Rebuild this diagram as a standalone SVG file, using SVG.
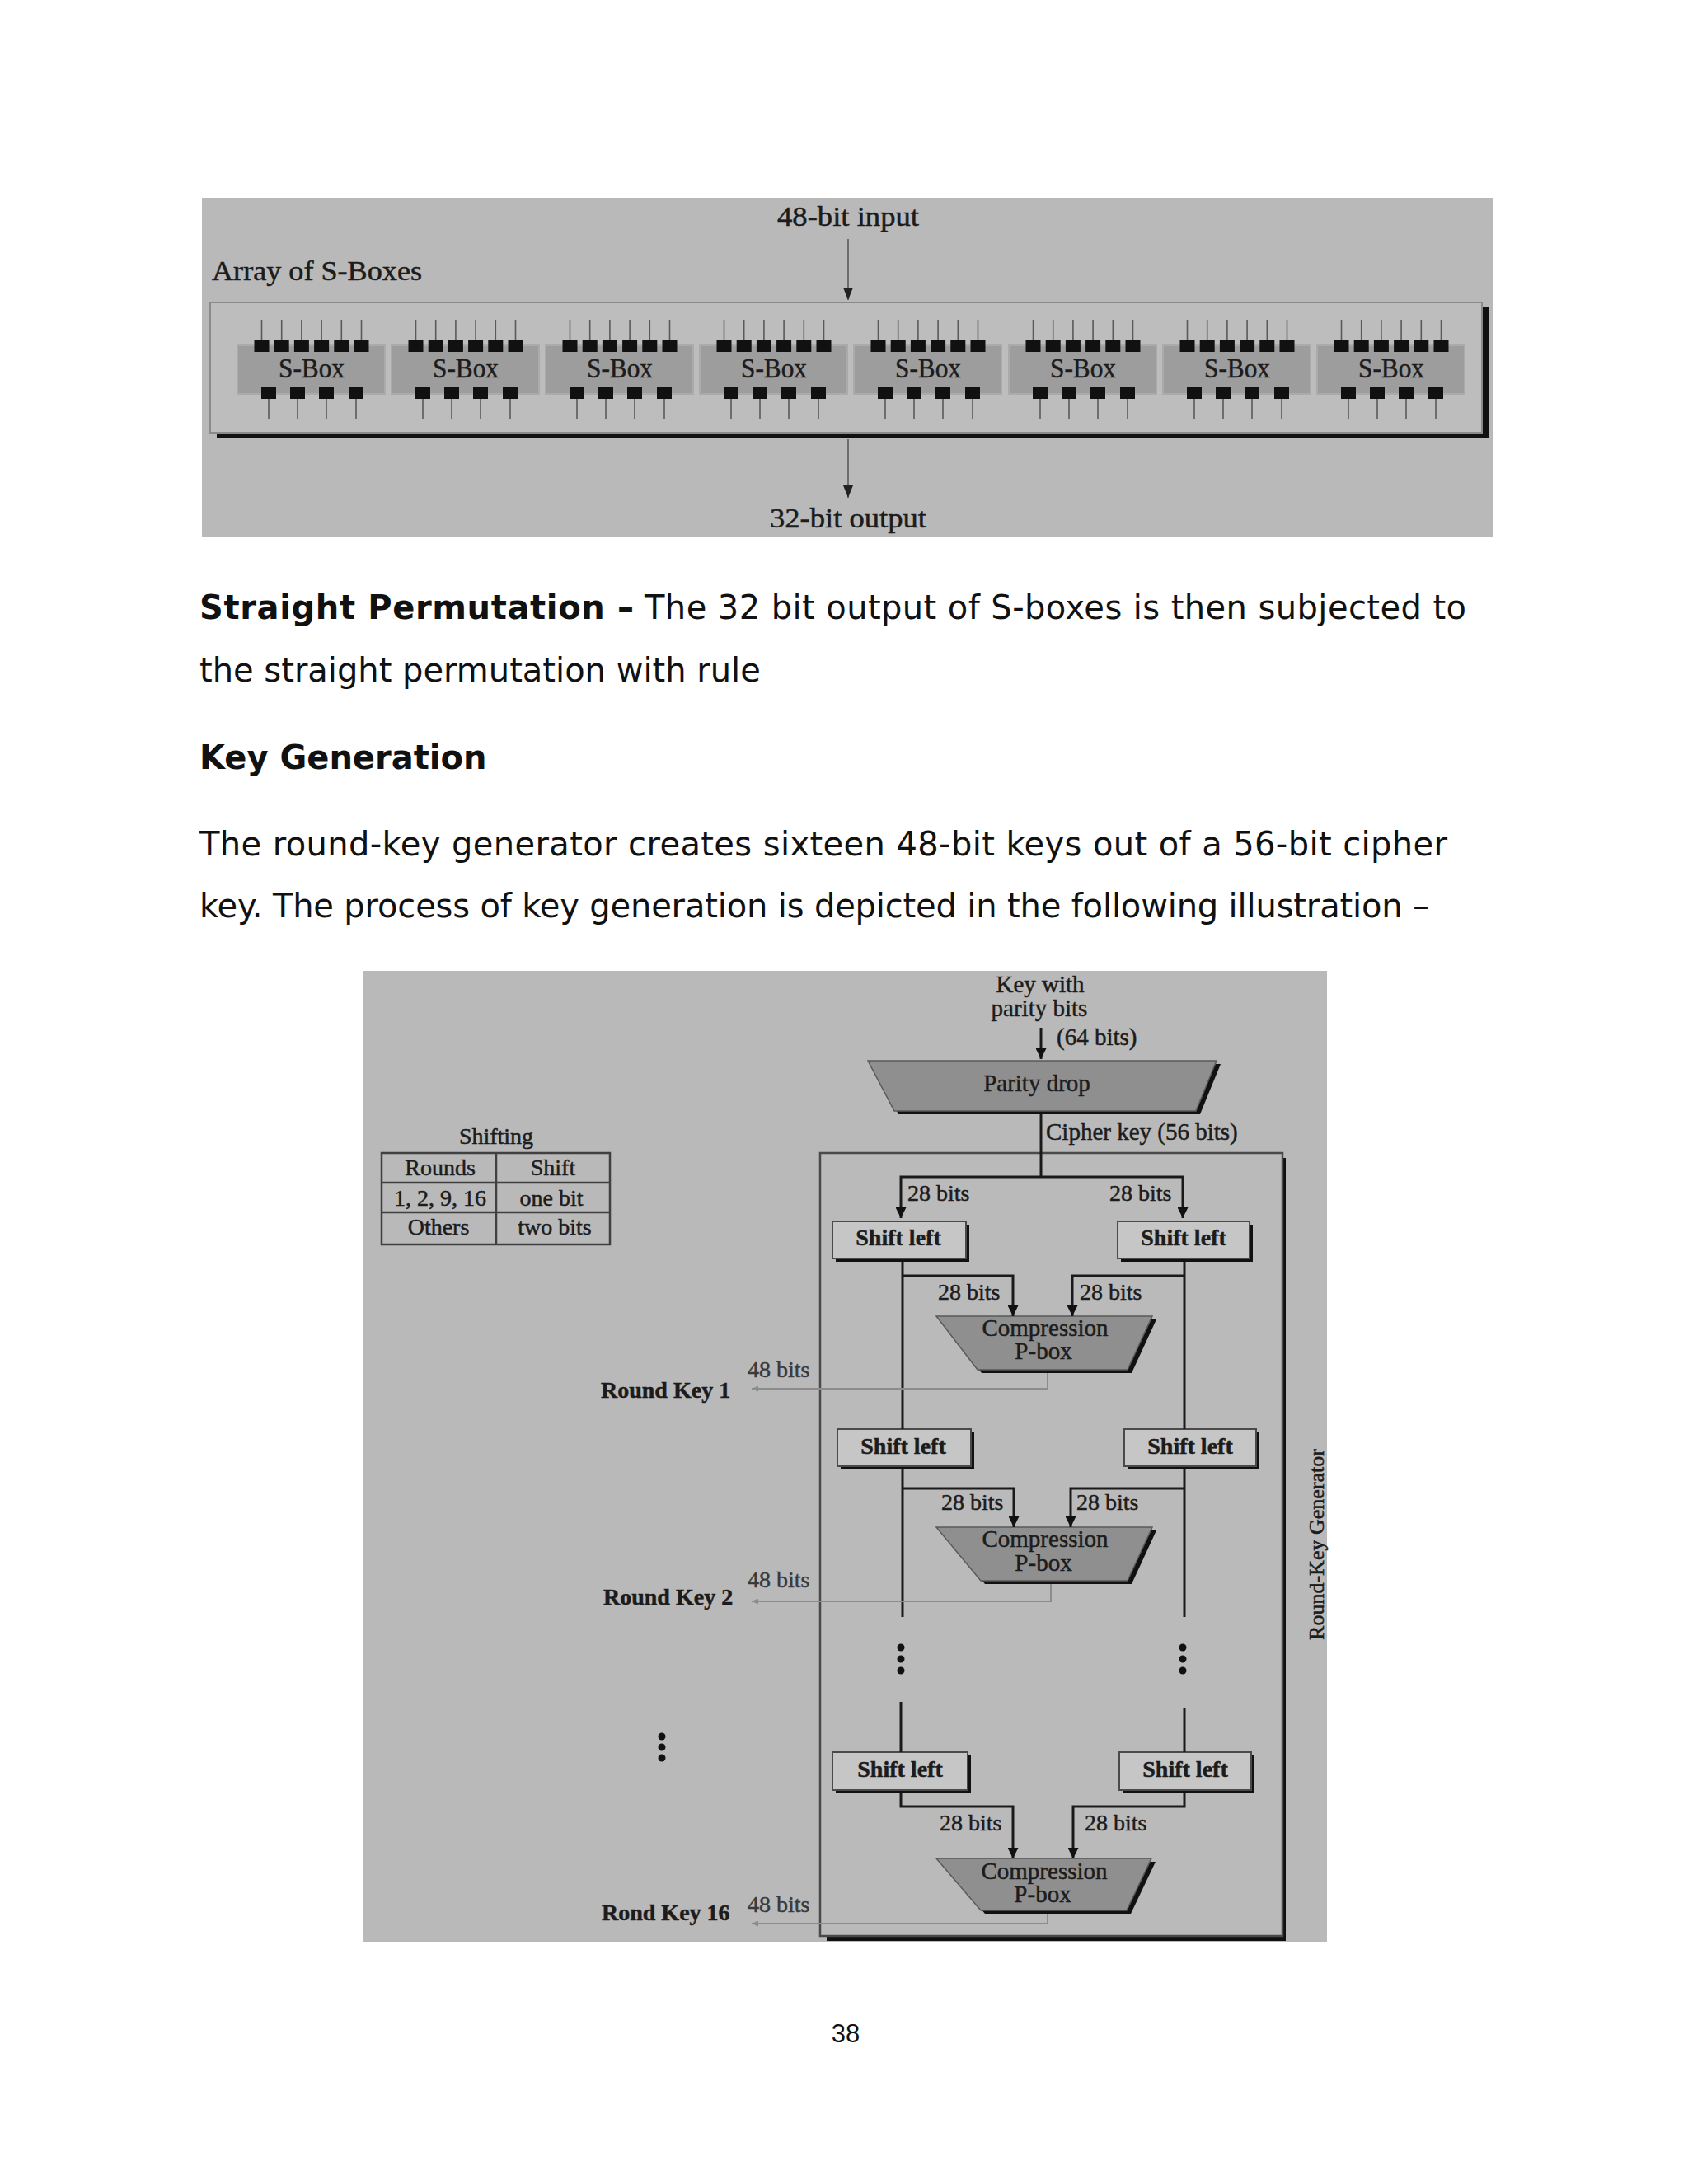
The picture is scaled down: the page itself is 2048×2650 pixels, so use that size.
<svg xmlns="http://www.w3.org/2000/svg" xmlns:xlink="http://www.w3.org/1999/xlink" width="2048" height="2650" viewBox="0 0 2048 2650">
<style>
.body{font-family:"DejaVu Sans","Verdana",sans-serif;font-size:40px;fill:#111}
.bold{font-weight:bold}
.fig{font-family:"Liberation Serif","Times New Roman",serif;fill:#1c1c1c;stroke:#1c1c1c;stroke-width:0.5}
.t33{font-size:33px}
.t29{font-size:29px}
.t28{font-size:28px}
.t26{font-size:26px}
.mid{text-anchor:middle}
.conn{fill:none;stroke:#1a1a1a;stroke-width:3}
.faint{fill:none;stroke:#8c8c8c;stroke-width:2}
.pin{fill:#111}
.pinline{stroke:#5a5a5a;stroke-width:1.6}
.box{fill:#c6c6c6;stroke:#4a4a4a;stroke-width:2}
.shadow{fill:#111}
.trap{fill:#8f8f8f;stroke:#5a5a5a;stroke-width:1.5}
.lbl{fill:#3a3a3a;stroke:#3a3a3a}
</style>
<defs>
<marker id="ah" viewBox="0 0 12 12" refX="12" refY="6" markerWidth="13" markerHeight="13" markerUnits="userSpaceOnUse" orient="auto" preserveAspectRatio="none"><path d="M0,0 L12,6 L0,12 z" fill="#111"/></marker>
<marker id="ahs" viewBox="0 0 12 12" refX="12" refY="6" markerWidth="15" markerHeight="12" markerUnits="userSpaceOnUse" orient="auto" preserveAspectRatio="none"><path d="M0,0 L12,6 L0,12 z" fill="#222"/></marker>
<marker id="ahf" viewBox="0 0 12 12" refX="12" refY="6" markerWidth="8" markerHeight="7" markerUnits="userSpaceOnUse" orient="auto" preserveAspectRatio="none"><path d="M0,0 L12,6 L0,12 z" fill="#8c8c8c"/></marker>
<g id="sbox-body">
<rect x="288" y="419" width="179" height="59" fill="#9d9d9d" stroke="#ababab" stroke-width="2"/>
<g class="pinline">
<line x1="317.5" y1="388" x2="317.5" y2="412"/><line x1="341.7" y1="388" x2="341.7" y2="412"/><line x1="365.9" y1="388" x2="365.9" y2="412"/><line x1="390.1" y1="388" x2="390.1" y2="412"/><line x1="414.3" y1="388" x2="414.3" y2="412"/><line x1="438.5" y1="388" x2="438.5" y2="412"/>
<line x1="326" y1="484" x2="326" y2="508"/><line x1="361" y1="484" x2="361" y2="508"/><line x1="396" y1="484" x2="396" y2="508"/><line x1="432" y1="484" x2="432" y2="508"/>
</g>
<g class="pin">
<rect x="308.5" y="412" width="18" height="15"/><rect x="332.7" y="412" width="18" height="15"/><rect x="356.9" y="412" width="18" height="15"/><rect x="381.1" y="412" width="18" height="15"/><rect x="405.3" y="412" width="18" height="15"/><rect x="429.5" y="412" width="18" height="15"/>
<rect x="317" y="469" width="18" height="15"/><rect x="352" y="469" width="18" height="15"/><rect x="387" y="469" width="18" height="15"/><rect x="423" y="469" width="18" height="15"/>
</g>
</g>
</defs>
<rect x="0" y="0" width="2048" height="2650" fill="#ffffff"/>

<!-- ===== Top figure: array of S-boxes ===== -->
<g id="sbox-figure">
<rect x="245" y="240" width="1566" height="412" fill="#b9b9b9"/>
<g id="sbox-array">
<rect x="263" y="373" width="1543" height="159" class="shadow"/>
<rect x="255" y="367" width="1543" height="158" fill="#bdbdbd" stroke="#8a8a8a" stroke-width="2"/>
<text x="257" y="340" class="fig t33" textLength="255" lengthAdjust="spacingAndGlyphs">Array of S-Boxes</text>
</g>
<g id="sbox-1"><use xlink:href="#sbox-body"/><text x="378" y="458" class="fig t33 mid" textLength="80" lengthAdjust="spacingAndGlyphs">S-Box</text></g>
<g id="sbox-2" transform="translate(187,0)"><use xlink:href="#sbox-body"/><text x="378" y="458" class="fig t33 mid" textLength="80" lengthAdjust="spacingAndGlyphs">S-Box</text></g>
<g id="sbox-3" transform="translate(374,0)"><use xlink:href="#sbox-body"/><text x="378" y="458" class="fig t33 mid" textLength="80" lengthAdjust="spacingAndGlyphs">S-Box</text></g>
<g id="sbox-4" transform="translate(561,0)"><use xlink:href="#sbox-body"/><text x="378" y="458" class="fig t33 mid" textLength="80" lengthAdjust="spacingAndGlyphs">S-Box</text></g>
<g id="sbox-5" transform="translate(748,0)"><use xlink:href="#sbox-body"/><text x="378" y="458" class="fig t33 mid" textLength="80" lengthAdjust="spacingAndGlyphs">S-Box</text></g>
<g id="sbox-6" transform="translate(936,0)"><use xlink:href="#sbox-body"/><text x="378" y="458" class="fig t33 mid" textLength="80" lengthAdjust="spacingAndGlyphs">S-Box</text></g>
<g id="sbox-7" transform="translate(1123,0)"><use xlink:href="#sbox-body"/><text x="378" y="458" class="fig t33 mid" textLength="80" lengthAdjust="spacingAndGlyphs">S-Box</text></g>
<g id="sbox-8" transform="translate(1310,0)"><use xlink:href="#sbox-body"/><text x="378" y="458" class="fig t33 mid" textLength="80" lengthAdjust="spacingAndGlyphs">S-Box</text></g>
<g id="input-label"><text x="1029" y="274" class="fig t33 mid" textLength="172" lengthAdjust="spacingAndGlyphs">48-bit input</text></g>
<g id="output-label"><text x="1029" y="640" class="fig t33 mid" textLength="190" lengthAdjust="spacingAndGlyphs">32-bit output</text></g>
<g id="sbox-connectors">
<line x1="1029" y1="290" x2="1029" y2="364" stroke="#5a5a5a" stroke-width="1.6" marker-end="url(#ahs)"/>
<line x1="1029" y1="533" x2="1029" y2="604" stroke="#5a5a5a" stroke-width="1.6" marker-end="url(#ahs)"/>
</g>
</g>

<!-- ===== Body text ===== -->
<g id="body-text">
<text x="242" y="751" class="body bold" textLength="527" lengthAdjust="spacing">Straight  Permutation –</text>
<text x="782" y="751" class="body" textLength="997" lengthAdjust="spacing">The 32 bit output of S-boxes is then subjected to</text>
<text x="242" y="827" class="body">the straight permutation with rule</text>
<text x="242" y="933" class="body bold">Key Generation</text>
<text x="242" y="1038" class="body" textLength="1514" lengthAdjust="spacing">The round-key generator creates sixteen 48-bit keys out of a 56-bit cipher</text>
<text x="242" y="1113" class="body" textLength="1492" lengthAdjust="spacing">key. The process of key generation is depicted in the following illustration –</text>
</g>

<!-- ===== Bottom figure: key generation ===== -->
<g id="keygen-figure">
<rect x="441" y="1178" width="1169" height="1178" fill="#b9b9b9"/>

<g id="shifting-table">
<text x="602" y="1388" class="fig t28 mid">Shifting</text>
<rect x="463" y="1399" width="277" height="111" fill="none" stroke="#404040" stroke-width="2.5"/>
<line x1="602" y1="1399" x2="602" y2="1510" stroke="#404040" stroke-width="2.5"/>
<line x1="463" y1="1435" x2="740" y2="1435" stroke="#404040" stroke-width="2.5"/>
<line x1="463" y1="1471" x2="740" y2="1471" stroke="#404040" stroke-width="2.5"/>
<text x="534" y="1426" class="fig t28 mid">Rounds</text>
<text x="671" y="1426" class="fig t28 mid">Shift</text>
<text x="534" y="1463" class="fig t28 mid">1, 2, 9, 16</text>
<text x="669" y="1463" class="fig t28 mid">one bit</text>
<text x="532" y="1498" class="fig t28 mid">Others</text>
<text x="673" y="1498" class="fig t28 mid">two bits</text>
</g>

<g id="round-key-generator">
<rect x="1003" y="1405" width="557" height="950" class="shadow"/>
<rect x="995" y="1399" width="561" height="950" fill="#bababa" stroke="#4a4a4a" stroke-width="2.5"/>
<text transform="translate(1606,1874) rotate(-90)" class="fig t26 mid" fill="#333">Round-Key Generator</text>
</g>

<g id="key-input">
<text x="1262" y="1204" class="fig t29 mid">Key with</text>
<text x="1261" y="1233" class="fig t29 mid">parity bits</text>
<text x="1282" y="1268" class="fig t29">(64 bits)</text>
</g>

<g id="parity-drop">
<polygon points="1058,1291 1481,1291 1456,1352 1090,1352" class="shadow"/>
<polygon points="1053,1287 1476,1287 1451,1348 1085,1348" class="trap"/>
<text x="1258" y="1324" class="fig t29 mid">Parity drop</text>
</g>
<text x="1269" y="1383" class="fig t29">Cipher key (56 bits)</text>

<g id="shift-left-1L">
<rect x="1014" y="1486" width="162" height="45" class="shadow"/>
<rect x="1010" y="1482" width="162" height="45" class="box"/>
<text x="1090" y="1511" class="fig t28 mid bold">Shift left</text>
</g>
<g id="shift-left-1R">
<rect x="1360" y="1486" width="160" height="45" class="shadow"/>
<rect x="1356" y="1482" width="160" height="45" class="box"/>
<text x="1436" y="1511" class="fig t28 mid bold">Shift left</text>
</g>
<g id="compression-1">
<polygon points="1141,1601 1403,1601 1373,1666 1191,1666" class="shadow"/>
<polygon points="1136,1597 1398,1597 1368,1662 1186,1662" class="trap"/>
<text x="1268" y="1621" class="fig t29 mid">Compression</text>
<text x="1266" y="1649" class="fig t29 mid">P-box</text>
</g>

<g id="shift-left-2L">
<rect x="1020" y="1738" width="162" height="45" class="shadow"/>
<rect x="1016" y="1734" width="162" height="45" class="box"/>
<text x="1096" y="1764" class="fig t28 mid bold">Shift left</text>
</g>
<g id="shift-left-2R">
<rect x="1368" y="1738" width="160" height="45" class="shadow"/>
<rect x="1364" y="1734" width="160" height="45" class="box"/>
<text x="1444" y="1764" class="fig t28 mid bold">Shift left</text>
</g>
<g id="compression-2">
<polygon points="1141,1857 1403,1857 1373,1922 1195,1922" class="shadow"/>
<polygon points="1136,1853 1398,1853 1368,1918 1190,1918" class="trap"/>
<text x="1268" y="1877" class="fig t29 mid">Compression</text>
<text x="1266" y="1906" class="fig t29 mid">P-box</text>
</g>

<g id="shift-left-3L">
<rect x="1014" y="2130" width="164" height="46" class="shadow"/>
<rect x="1010" y="2126" width="164" height="46" class="box"/>
<text x="1092" y="2156" class="fig t28 mid bold">Shift left</text>
</g>
<g id="shift-left-3R">
<rect x="1362" y="2130" width="160" height="46" class="shadow"/>
<rect x="1358" y="2126" width="160" height="46" class="box"/>
<text x="1438" y="2156" class="fig t28 mid bold">Shift left</text>
</g>
<g id="compression-16">
<polygon points="1141,2259 1402,2259 1372,2322 1195,2322" class="shadow"/>
<polygon points="1136,2255 1397,2255 1367,2318 1190,2318" class="trap"/>
<text x="1267" y="2280" class="fig t29 mid">Compression</text>
<text x="1265" y="2308" class="fig t29 mid">P-box</text>
</g>

<g id="round-key-1">
<text x="729" y="1696" class="fig t28 bold">Round Key 1</text>
<text x="907" y="1671" class="fig t28 lbl">48 bits</text>
</g>
<g id="round-key-2">
<text x="732" y="1947" class="fig t28 bold">Round Key 2</text>
<text x="907" y="1926" class="fig t28 lbl">48 bits</text>
</g>
<g id="round-key-16">
<text x="730" y="2330" class="fig t28 bold">Rond Key 16</text>
<text x="907" y="2320" class="fig t28 lbl">48 bits</text>
</g>

<g id="ellipsis" fill="#111">
<circle cx="1093" cy="1999" r="4.5"/><circle cx="1093" cy="2013" r="4.5"/><circle cx="1093" cy="2027" r="4.5"/>
<circle cx="1435" cy="1999" r="4.5"/><circle cx="1435" cy="2013" r="4.5"/><circle cx="1435" cy="2027" r="4.5"/>
<circle cx="803" cy="2107" r="4.5"/><circle cx="803" cy="2120" r="4.5"/><circle cx="803" cy="2133" r="4.5"/>
</g>

<g id="bit-labels">
<text x="1101" y="1457" class="fig t28">28 bits</text>
<text x="1346" y="1457" class="fig t28">28 bits</text>
<text x="1138" y="1577" class="fig t28">28 bits</text>
<text x="1310" y="1577" class="fig t28">28 bits</text>
<text x="1142" y="1832" class="fig t28">28 bits</text>
<text x="1306" y="1832" class="fig t28">28 bits</text>
<text x="1140" y="2221" class="fig t28">28 bits</text>
<text x="1316" y="2221" class="fig t28">28 bits</text>
</g>

<g id="connectors">
<path class="conn" d="M1263,1247 V1285" marker-end="url(#ah)"/>
<path class="conn" d="M1263,1352 V1428"/>
<path class="conn" d="M1263,1428 H1093 V1478" marker-end="url(#ah)"/>
<path class="conn" d="M1263,1428 H1435 V1478" marker-end="url(#ah)"/>
<path class="conn" d="M1095,1531 V1734"/>
<path class="conn" d="M1437,1531 V1734"/>
<path class="conn" d="M1095,1548 H1229 V1597" marker-end="url(#ah)"/>
<path class="conn" d="M1437,1548 H1301 V1597" marker-end="url(#ah)"/>
<path class="conn" d="M1095,1783 V1962"/>
<path class="conn" d="M1437,1783 V1962"/>
<path class="conn" d="M1095,1806 H1230 V1853" marker-end="url(#ah)"/>
<path class="conn" d="M1437,1806 H1299 V1853" marker-end="url(#ah)"/>
<path class="conn" d="M1093,2065 V2126"/>
<path class="conn" d="M1437,2073 V2126"/>
<path class="conn" d="M1093,2176 V2192 H1229 V2255" marker-end="url(#ah)"/>
<path class="conn" d="M1437,2176 V2192 H1302 V2255" marker-end="url(#ah)"/>
<path class="faint" d="M1271,1666 V1685 H912" marker-end="url(#ahf)"/>
<path class="faint" d="M1275,1922 V1943 H912" marker-end="url(#ahf)"/>
<path class="faint" d="M1271,2322 V2334 H912" marker-end="url(#ahf)"/>
</g>
</g>

<text x="1026" y="2478" font-family="Liberation Sans, Arial, sans-serif" font-size="31" text-anchor="middle" fill="#111">38</text>
</svg>
